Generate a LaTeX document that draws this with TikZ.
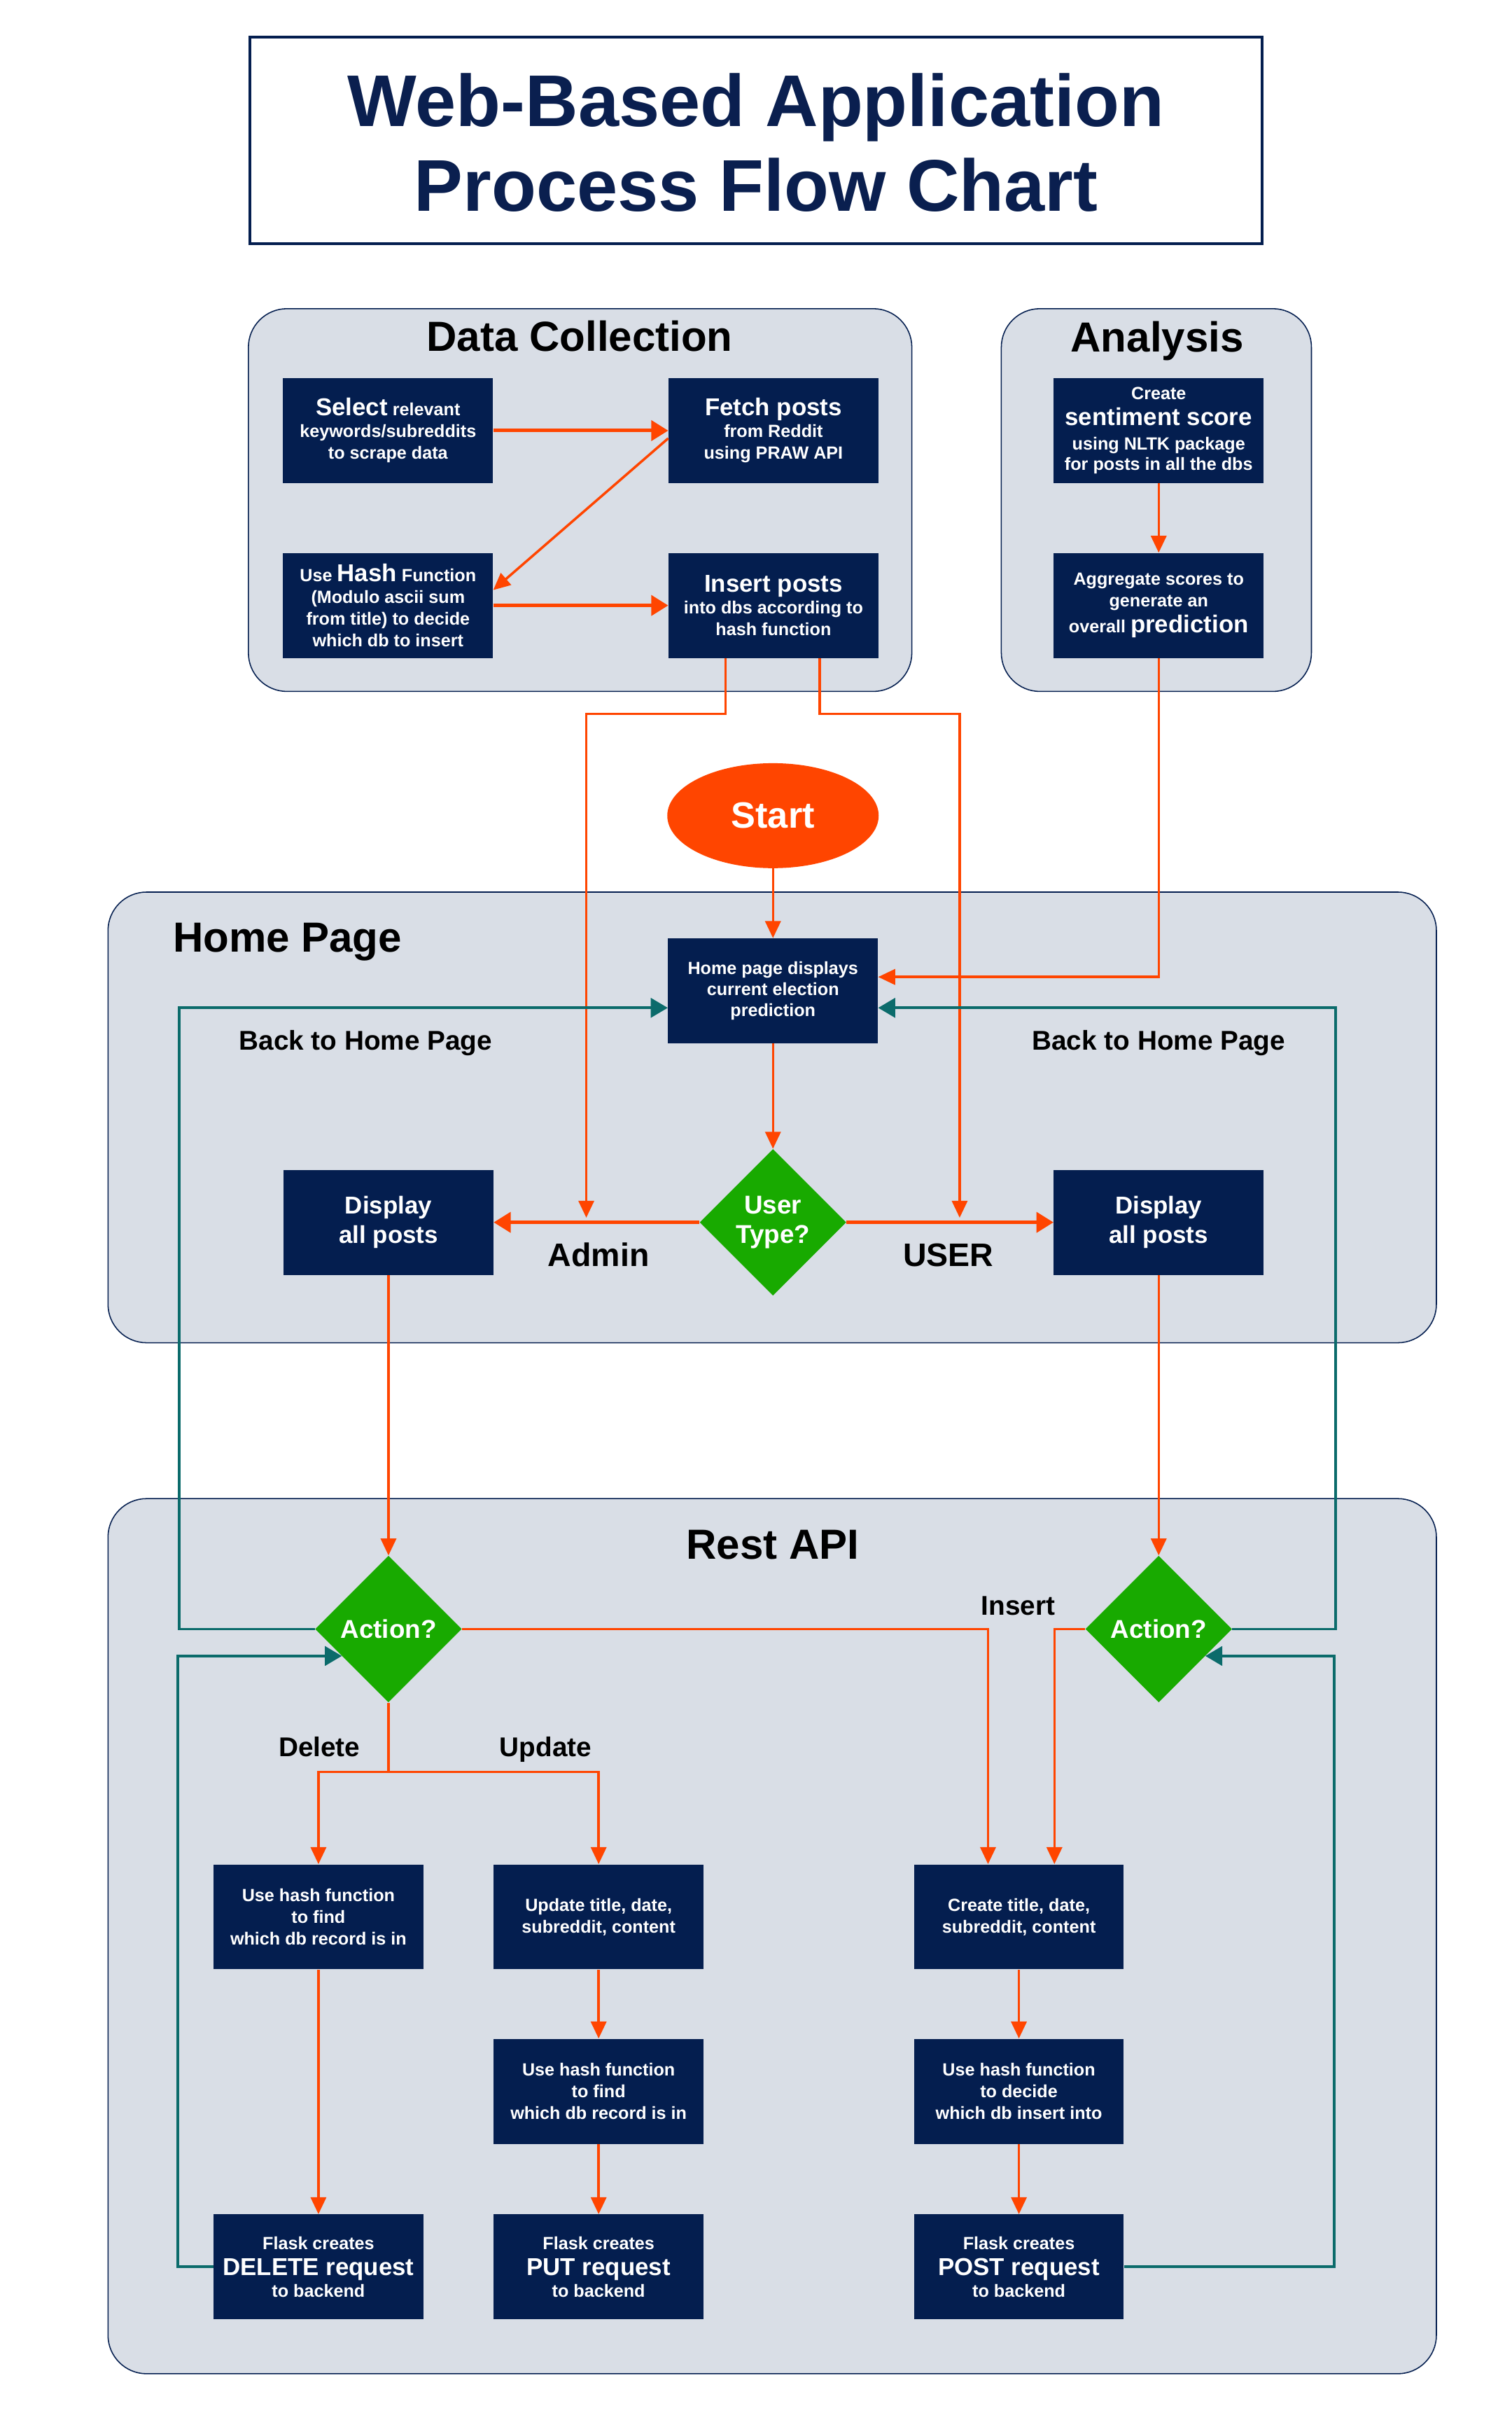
\documentclass[tikz,border=0pt]{standalone}
\usepackage{fontspec}
\setmainfont{Liberation Sans}
\usetikzlibrary{positioning,shapes.geometric,arrows.meta}
\definecolor{navy}{HTML}{041E4F}
\definecolor{panel}{HTML}{D9DEE6}
\definecolor{flow}{HTML}{FF4500}
\definecolor{back}{HTML}{0B6B6B}
\definecolor{decide}{HTML}{18AA00}
\definecolor{ttl}{HTML}{0A1F4F}
\newcommand{\fs}[2]{\fontsize{#1}{#2}\selectfont}

\begin{document}
\begin{tikzpicture}[x=0.04cm,y=-0.04cm,
  every node/.style={font=\bfseries},
  proc/.style={rectangle,fill=navy,text=white,minimum width=5.44cm,minimum height=2.72cm,
    inner sep=0pt,align=center,font=\bfseries\fs{13}{16}},
  decision/.style={diamond,fill=decide,text=white,minimum width=3.8cm,minimum height=3.8cm,
    inner sep=0pt,align=center,font=\bfseries\fs{19}{22}},
  panelbox/.style={fill=panel,draw=navy,line width=0.8pt,rounded corners=1cm},
  grouptitle/.style={font=\bfseries\fs{31}{36},anchor=base},
  lbl/.style={font=\bfseries\fs{20}{24},anchor=base},
  conn/.style={draw=flow,line width=1.8pt,-{Triangle[length=4.4mm,width=4mm]}},
  wideconn/.style={conn,line width=2.6pt,-{Triangle[length=4.4mm,width=5.2mm]}},
  backconn/.style={draw=back,line width=2pt,-{Triangle[length=4.4mm,width=5mm]}}]

    \fill[white] (0,0) rectangle (980,1568);
    \useasboundingbox (0,0) rectangle (980,1568);

    % title
    \draw[draw=navy,line width=2.2pt] (162,24) rectangle (818,158);
    \node[text=ttl,font=\bfseries\fs{54}{62},anchor=base] (title1) at (490,82) {Web-Based Application};
    \node[text=ttl,font=\bfseries\fs{54}{62},anchor=base] (title2) at (490,137) {Process Flow Chart};

    % panels
    \draw[panelbox] (161,200) rectangle (591,448);
    \draw[panelbox] (649,200) rectangle (850,448);
    \draw[panelbox] (70,578) rectangle (931,870);
    \draw[panelbox] (70,971) rectangle (931,1538);

    \node[grouptitle] (datacoll) at (375.7,227.6) {Data Collection};
    \node[grouptitle] (analysis) at (750,228) {Analysis};
    \node[grouptitle,anchor=base west] (homepg) at (109,617) {Home Page};
    \node[grouptitle] (restapi) at (500.8,1010) {Rest API};

    % data collection
    \node[proc] (sel) at (251.5,279) {{\fs{18}{16}Select} relevant\\keywords/subreddits\\to scrape data};
    \node[proc] (fetch) at (501.3,279) {{\fs{18}{16}Fetch posts}\\from Reddit\\using PRAW API};
    \node[proc] (hash) at (251.5,392.3) {Use {\fs{18}{16}Hash} Function\\(Modulo ascii sum\\from title) to decide\\which db to insert};
    \node[proc] (ins) at (501.3,392.3) {{\fs{18}{16}Insert posts}\\into dbs according to\\hash function};

    % analysis
    \node[proc,font=\bfseries\fs{13}{15}] (senti) at (751,279) {Create\\[4pt]{\fs{18}{16}sentiment score}\\[3pt]using NLTK package\\for posts in all the dbs};
    \node[proc] (agg) at (751,392.3) {Aggregate scores to\\generate an\\[3pt]overall {\fs{18}{16}prediction}};

    % home page
    \node[ellipse,fill=flow,text=white,minimum width=5.48cm,minimum height=2.72cm,
      font=\bfseries\fs{27}{30}] (start) at (501,528.5) {Start};
    \node[proc,font=\bfseries\fs{13}{15.3}] (home) at (501,642) {Home page displays\\current election\\prediction};
    \node[decision] (utype) at (501,792) {User\\Type?};
    \node[proc,font=\bfseries\fs{18}{21.6}] (dispL) at (251.8,792) {Display\\all posts};
    \node[proc,font=\bfseries\fs{18}{21.6}] (dispR) at (751,792) {Display\\all posts};
    \coordinate (admtip) at (380,789);
    \coordinate (usrtip) at (622,789);

    \node[lbl] (backL) at (237,680.4) {Back to Home Page};
    \node[lbl] (backR) at (751,680.4) {Back to Home Page};
    \node[lbl,font=\bfseries\fs{24}{28}] (admin) at (388,820.5) {Admin};
    \node[lbl,font=\bfseries\fs{24}{28}] (user) at (614.6,820.5) {USER};

    % rest api
    \node[decision] (actL) at (251.8,1055.5) {Action?};
    \node[decision] (actR) at (751,1055.5) {Action?};
    \node[lbl] (inslbl) at (660,1046.5) {Insert};
    \node[lbl] (dellbl) at (207,1138) {Delete};
    \node[lbl] (updlbl) at (353.6,1138) {Update};

    \node[proc] (delh) at (206.4,1242) {Use hash function\\to find\\which db record is in};
    \node[proc] (upd) at (388,1242) {Update title, date,\\subreddit, content};
    \node[proc] (create) at (660.4,1242) {Create title, date,\\subreddit, content};
    \node[proc] (hfind) at (388,1355) {Use hash function\\to find\\which db record is in};
    \node[proc] (hdec) at (660.4,1355) {Use hash function\\to decide\\which db insert into};
    \node[proc] (del) at (206.4,1468.8) {Flask creates\\[3pt]{\fs{18}{16}DELETE request}\\to backend};
    \node[proc] (put) at (388,1468.8) {Flask creates\\[3pt]{\fs{18}{16}PUT request}\\to backend};
    \node[proc] (post) at (660.4,1468.8) {Flask creates\\[3pt]{\fs{18}{16}POST request}\\to backend};

    % connectors
    \draw[wideconn] (sel) -- (fetch);
    \draw[conn] ([yshift=-2mm]fetch.west) -- ([yshift=4mm]hash.east);
    \draw[wideconn] (hash) -- (ins);
    \draw[conn] (senti) -- (agg);
    \draw[conn] (agg.south) |- ([yshift=3.6mm]home.east);
    \draw[conn] ([xshift=-12.4mm]ins.south) -- ++(0,36) -| (admtip);
    \draw[conn] ([xshift=12mm]ins.south) -- ++(0,36) -| (usrtip);
    \draw[conn] (start) -- (home);
    \draw[conn] (home) -- (utype);
    \draw[wideconn] (utype) -- (dispL);
    \draw[wideconn] (utype) -- (dispR);
    \draw[conn] (dispL) -- (actL);
    \draw[conn] (dispR) -- (actR);
    \draw[conn] (actL.east) -| ([xshift=-8mm]create.north);
    \draw[conn] (actR.west) -| ([xshift=9.2mm]create.north);
    \draw[conn] (actL.south) -- ++(0,45) coordinate (split) -| (delh.north);
    \draw[conn] (split) -| (upd.north);
    \draw[conn] (delh) -- (del);
    \draw[conn] (upd) -- (hfind);
    \draw[conn] (hfind) -- (put);
    \draw[conn] (create) -- (hdec);
    \draw[conn] (hdec) -- (post);

    % back to home page
    \draw[backconn] (actL.west) -- ++(-88,0) |- ([yshift=-4.4mm]home.west);
    \draw[backconn] (actR.east) -- ++(67,0) |- ([yshift=-4.4mm]home.east);
    \draw[backconn] (del.west) -- ++(-23,0) |- (actL.210);
    \draw[backconn] (post.east) -- ++(136,0) |- (actR.330);
\end{tikzpicture}
\end{document}
